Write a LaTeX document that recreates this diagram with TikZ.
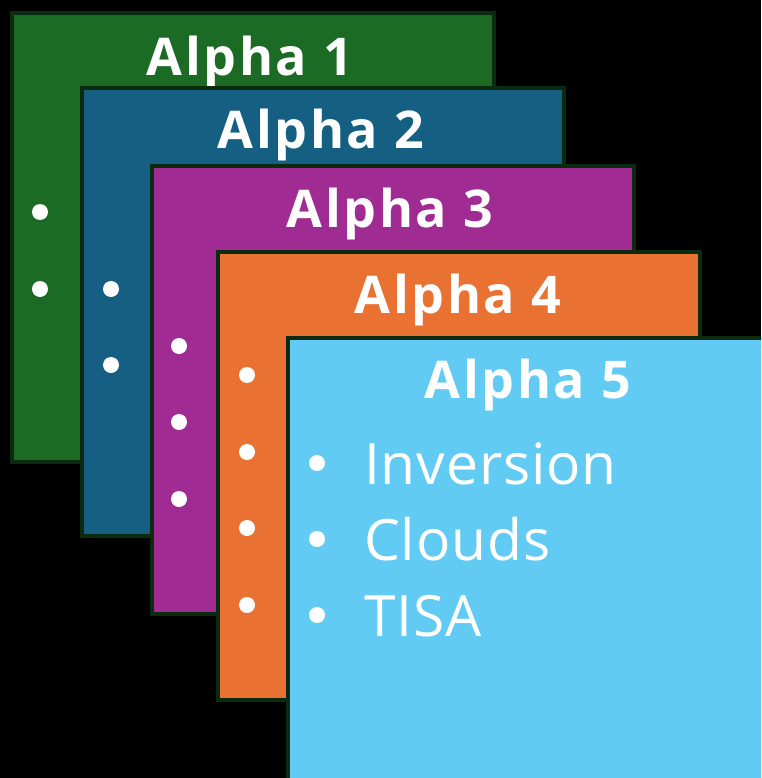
\documentclass[tikz,border=0pt]{standalone}
\usepackage{fontspec}
\setmainfont{Open Sans}
\definecolor{edge}{HTML}{0B2A10}
\definecolor{cgreen}{HTML}{1B6B24}
\definecolor{cblue}{HTML}{155F82}
\definecolor{cpurple}{HTML}{A02B93}
\definecolor{corange}{HTML}{E97132}
\definecolor{csky}{HTML}{61CBF3}
\tikzset{
  card/.style={draw=edge, line width=4pt, fill=#1, anchor=north west,
    minimum width=482pt, minimum height=448pt, inner sep=0pt},
  cardtitle/.style={text=white, anchor=base, inner sep=0pt,
    font=\bfseries\fontsize{52}{52}\selectfont\addfontfeatures{LetterSpace=5}},
  itemtext/.style={text=white, anchor=base west, inner sep=0pt,
    font=\fontsize{57}{57}\selectfont\addfontfeatures{LetterSpace=1.5}},
  dot/.style={fill=white}
}
\begin{document}
\begin{tikzpicture}[x=1pt, y=-1pt]
  \useasboundingbox (0,0) rectangle (761,778);
  \fill[black] (0,0) rectangle (761,778);
  \clip (0,0) rectangle (761,778);

  % card 1
  \node[card=cgreen] (a1) at (9.5,11.5) {};
  \node[cardtitle] (t1) at (250,76) {Alpha 1};
  \fill[dot] (40,212) circle (8);
  \fill[dot] (40,289) circle (8);

  % card 2
  \node[card=cblue] (a2) at (80,86) {};
  \node[cardtitle] (t2) at (321,149) {Alpha 2};
  \fill[dot] (111,289) circle (8);
  \fill[dot] (111,365) circle (8);

  % card 3
  \node[card=cpurple] (a3) at (149.5,164) {};
  \node[cardtitle] (t3) at (390,227) {Alpha 3};
  \fill[dot] (179,346) circle (8);
  \fill[dot] (179,422) circle (8);
  \fill[dot] (179,499) circle (8);

  % card 4
  \node[card=corange] (a4) at (216,250) {};
  \node[cardtitle] (t4) at (458,313) {Alpha 4};
  \fill[dot] (247,375) circle (8);
  \fill[dot] (247,452) circle (8);
  \fill[dot] (247,528) circle (8);
  \fill[dot] (247,605) circle (8);

  % card 5
  \node[card=csky] (a5) at (286,336) {};
  \node[cardtitle] (t5) at (528,398) {Alpha 5};
  \fill[dot] (317,463) circle (8);
  \fill[dot] (317,539) circle (8);
  \fill[dot] (317,615) circle (8);
  \node[itemtext] (i1) at (364,484) {Inversion};
  \node[itemtext] (i2) at (364,560) {Clouds};
  \node[itemtext] (i3) at (364,636) {TISA};
\end{tikzpicture}
\end{document}
